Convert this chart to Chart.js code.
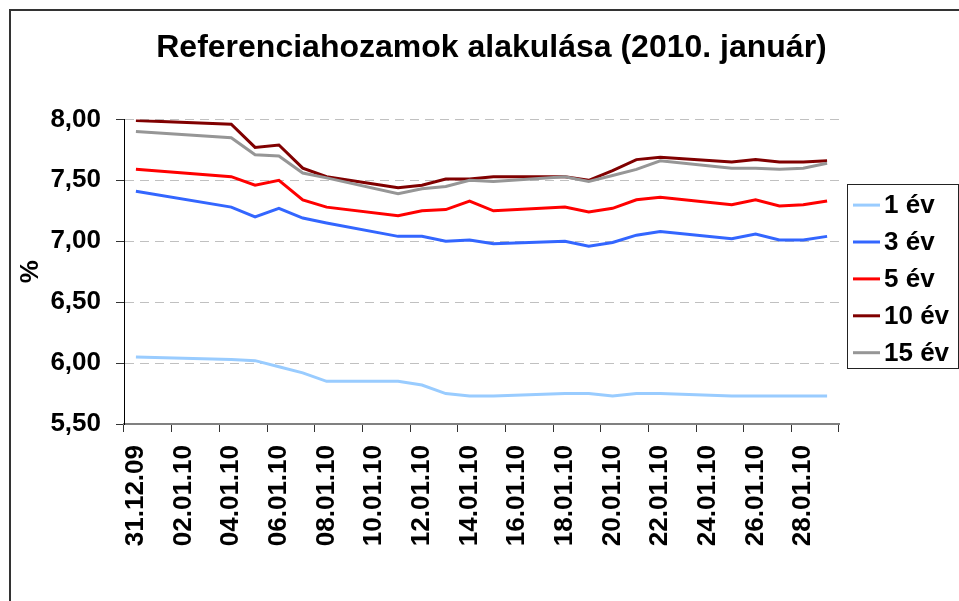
<!DOCTYPE html>
<html lang="hu">
<head>
<meta charset="utf-8">
<title>Referenciahozamok alakulása (2010. január)</title>
<script src="https://cdn.jsdelivr.net/npm/chart.js@4.4.1/dist/chart.umd.min.js"></script>
<style>
  html, body { margin: 0; padding: 0; background: #fff; }
  #chart { display: block; }
</style>
</head>
<body>
<canvas id="chart" width="959" height="601"></canvas>
<script>
/* ---- data (null = weekend / holiday) ---- */
var dates = [
  '31.12.09', '01.01.10', '02.01.10', '03.01.10', '04.01.10', '05.01.10',
  '06.01.10', '07.01.10', '08.01.10', '09.01.10', '10.01.10', '11.01.10',
  '12.01.10', '13.01.10', '14.01.10', '15.01.10', '16.01.10', '17.01.10',
  '18.01.10', '19.01.10', '20.01.10', '21.01.10', '22.01.10', '23.01.10',
  '24.01.10', '25.01.10', '26.01.10', '27.01.10', '28.01.10', '29.01.10'
];

var ev1 = [6.05, null, null, null, 6.03, 6.02, 5.97, 5.92, 5.85, null, null,
  5.85, 5.82, 5.75, 5.73, 5.73, null, null, 5.75, 5.75, 5.73, 5.75, 5.75,
  null, null, 5.73, 5.73, 5.73, 5.73, 5.73];
var ev3 = [7.41, null, null, null, 7.28, 7.20, 7.27, 7.19, 7.15, null, null,
  7.04, 7.04, 7.00, 7.01, 6.98, null, null, 7.00, 6.96, 6.99, 7.05, 7.08,
  null, null, 7.02, 7.06, 7.01, 7.01, 7.04];
var ev5 = [7.59, null, null, null, 7.53, 7.46, 7.50, 7.34, 7.28, null, null,
  7.21, 7.25, 7.26, 7.33, 7.25, null, null, 7.28, 7.24, 7.27, 7.34, 7.36,
  null, null, 7.30, 7.34, 7.29, 7.30, 7.33];
var ev10 = [7.99, null, null, null, 7.96, 7.77, 7.79, 7.60, 7.53, null, null,
  7.44, 7.46, 7.51, 7.51, 7.53, null, null, 7.53, 7.50, 7.58, 7.67, 7.69,
  null, null, 7.65, 7.67, 7.65, 7.65, 7.66];
var ev15 = [7.90, null, null, null, 7.85, 7.71, 7.70, 7.56, 7.52, null, null,
  7.39, 7.43, 7.45, 7.50, 7.49, null, null, 7.53, 7.49, 7.54, 7.59, 7.66,
  null, null, 7.60, 7.60, 7.59, 7.60, 7.64];

var seriesNames = ['1 év', '3 év', '5 év', '10 év', '15 év'];
var seriesColors = ['#99CCFF', '#3366FF', '#FF0000', '#800000', '#969696'];
var yTicks = [5.5, 6.0, 6.5, 7.0, 7.5, 8.0];

var FONT = "'Liberation Sans', Arial, sans-serif";

/* ---- outer frame (Excel chart area border) ---- */
var framePlugin = {
  id: 'frame',
  beforeDraw: function (chart) {
    var ctx = chart.ctx;
    ctx.save();
    ctx.strokeStyle = '#333';
    ctx.lineWidth = 2;
    ctx.beginPath();
    ctx.moveTo(10, chart.height);
    ctx.lineTo(10, 10);
    ctx.lineTo(chart.width, 10);
    ctx.stroke();
    ctx.restore();
  }
};

/* ---- boxed legend on the right ---- */
var boxLegendPlugin = {
  id: 'boxLegend',
  afterDraw: function (chart) {
    var ctx = chart.ctx;
    var area = chart.chartArea;
    var left = area.right + 8;
    var top = area.top + 65;
    var right = chart.width - 1;
    var bottom = area.top + 249;
    ctx.save();
    ctx.strokeStyle = '#222';
    ctx.lineWidth = 1;
    ctx.strokeRect(Math.round(left) + 0.5, Math.round(top) + 0.5,
      Math.round(right - left), Math.round(bottom - top));

    ctx.font = 'bold 26px ' + FONT;
    ctx.textBaseline = 'middle';
    ctx.textAlign = 'left';
    chart.data.datasets.forEach(function (ds, i) {
      var y = area.top + 85.7 + i * 36.9;
      ctx.strokeStyle = ds.borderColor;
      ctx.lineWidth = 3;
      ctx.beginPath();
      ctx.moveTo(area.right + 14, y);
      ctx.lineTo(area.right + 41, y);
      ctx.stroke();
      ctx.fillStyle = '#000';
      ctx.fillText(ds.label, area.right + 45, y + 1);
    });
    ctx.restore();
  }
};

var seriesData = [ev1, ev3, ev5, ev10, ev15];

new Chart(document.getElementById('chart'), {
  type: 'line',
  data: {
    labels: dates,
    datasets: seriesData.map(function (vals, i) {
      return {
        label: seriesNames[i],
        data: vals,
        borderColor: seriesColors[i],
        backgroundColor: seriesColors[i],
        borderWidth: 3,
        pointRadius: 0,
        pointHoverRadius: 0,
        tension: 0,
        spanGaps: true,
        order: seriesData.length - i
      };
    })
  },
  options: {
    responsive: false,
    animation: false,
    layout: { padding: { left: 24, top: 10, right: 0, bottom: 0 } },
    plugins: {
      legend: { display: false },
      tooltip: { enabled: false },
      title: {
        display: true,
        text: 'Referenciahozamok alakulása (2010. január)',
        color: '#000',
        font: { family: FONT, size: 32, weight: 'bold' },
        padding: { top: 19, bottom: 52 }
      }
    },
    scales: {
      x: {
        type: 'category',
        offset: true,
        afterFit: function (scale) { scale.height = 177; },
        grid: {
          offset: true,
          drawOnChartArea: false,
          drawTicks: true,
          tickLength: 8,
          color: function (c) {
            return (c.index === undefined || c.index % 2 === 0) ? '#333' : 'rgba(0,0,0,0)';
          }
        },
        border: { display: true, color: '#808080', width: 2 },
        ticks: {
          autoSkip: false,
          minRotation: 90,
          maxRotation: 90,
          padding: 13,
          color: '#000',
          font: { family: FONT, size: 26, weight: 'bold' },
          callback: function (value, index) {
            return index % 2 === 0 ? dates[index] : '';
          }
        }
      },
      y: {
        type: 'linear',
        min: 5.5,
        max: 8,
        afterFit: function (scale) { scale.width = 100; },
        afterBuildTicks: function (scale) {
          scale.ticks = yTicks.map(function (v) { return { value: v }; });
        },
        grid: {
          color: '#C0C0C0',
          lineWidth: 1,
          tickLength: 8,
          tickColor: '#333',
          tickBorderDash: []
        },
        border: { display: true, color: '#000', width: 1, dash: [9, 6] },
        ticks: {
          padding: 15,
          color: '#000',
          font: { family: FONT, size: 26, weight: 'bold' },
          callback: function (value) {
            return Number(value).toFixed(2).replace('.', ',');
          }
        },
        title: {
          display: true,
          text: '%',
          color: '#000',
          font: { family: FONT, size: 26, weight: 'bold', lineHeight: 0.5 },
          padding: 0
        }
      },
      legendSpace: {
        type: 'linear',
        position: 'right',
        display: true,
        afterFit: function (scale) { scale.width = 120; },
        grid: { display: false },
        border: { display: false },
        ticks: { display: false }
      }
    }
  },
  plugins: [framePlugin, boxLegendPlugin]
});
</script>
</body>
</html>
